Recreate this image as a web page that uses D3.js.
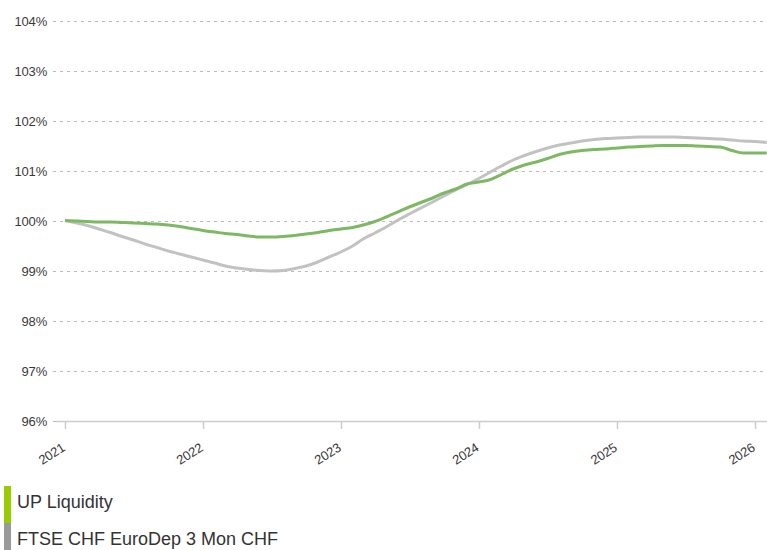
<!DOCTYPE html>
<html>
<head>
<meta charset="utf-8">
<script src="https://cdn.jsdelivr.net/npm/d3@7"></script>
<style>
  body { margin: 0; background: #fff; }
  svg { display: block; font-family: "Liberation Sans", Arial, sans-serif; }
</style>
</head>
<body>
<svg id="chart" width="767" height="550"></svg>
<script>
// monthly values, Jan 2021 .. Feb 2026
const startMonth = new Date(2021, 0, 1);

const upLiquidity = [
  100.01, 100.00, 99.99, 99.98, 99.98, 99.97, 99.96, 99.95, 99.94, 99.92, 99.89, 99.85,
  99.81, 99.78, 99.75, 99.73, 99.70, 99.68, 99.68, 99.69, 99.71, 99.74, 99.77, 99.81,
  99.84, 99.87, 99.92, 99.99, 100.08, 100.18, 100.28, 100.37, 100.46, 100.56, 100.64, 100.74,
  100.78, 100.83, 100.93, 101.04, 101.12, 101.18, 101.25, 101.33, 101.38, 101.41, 101.43, 101.44,
  101.46, 101.48, 101.49, 101.50, 101.51, 101.51, 101.51, 101.50, 101.49, 101.48, 101.41, 101.36,
  101.36, 101.36
];

const ftseEuroDep = [
  100.01, 99.96, 99.91, 99.84, 99.77, 99.69, 99.62, 99.54, 99.47, 99.40, 99.34, 99.28,
  99.22, 99.16, 99.10, 99.06, 99.03, 99.01, 99.00, 99.01, 99.05, 99.10, 99.18, 99.28,
  99.38, 99.50, 99.64, 99.76, 99.88, 100.02, 100.14, 100.26, 100.38, 100.50, 100.62, 100.73,
  100.85, 100.98, 101.10, 101.22, 101.31, 101.39, 101.46, 101.52, 101.56, 101.60, 101.63, 101.65,
  101.66, 101.67, 101.68, 101.68, 101.68, 101.68, 101.67, 101.66, 101.65, 101.64, 101.62, 101.60,
  101.59, 101.57
];

const yTicks = [96, 97, 98, 99, 100, 101, 102, 103, 104];
const xTickYears = [2021, 2022, 2023, 2024, 2025, 2026];

const seriesNames = ["UP Liquidity", "FTSE CHF EuroDep 3 Mon CHF"];
const seriesColors = ["#7db863", "#c2c2c2"];
const legendColors = ["#99cc00", "#999999"];

const svg = d3.select("#chart");

const x = d3.scaleTime()
  .domain([new Date(2021, 0, 1), new Date(2026, 0, 1)])
  .range([65, 755]);

const y = d3.scaleLinear()
  .domain([96, 104])
  .range([421, 21]);

const monthDate = i => new Date(startMonth.getFullYear(), startMonth.getMonth() + i, 1);

// grid lines
svg.append("g")
  .selectAll("line")
  .data(yTicks)
  .enter().append("line")
  .attr("x1", 53)
  .attr("x2", 767)
  .attr("y1", d => y(d) + 0.5)
  .attr("y2", d => y(d) + 0.5)
  .attr("stroke", "#bbbbbb")
  .attr("stroke-dasharray", "3,4");

// y labels
svg.append("g")
  .selectAll("text")
  .data(yTicks)
  .enter().append("text")
  .attr("x", 47)
  .attr("y", d => y(d) + 4.5)
  .attr("text-anchor", "end")
  .attr("font-size", 13)
  .attr("letter-spacing", "-0.2")
  .attr("fill", "#3a3a3a")
  .text(d => d + "%");

// x axis line + ticks
svg.append("line")
  .attr("x1", 56).attr("x2", 767)
  .attr("y1", y(96) + 0.5).attr("y2", y(96) + 0.5)
  .attr("stroke", "#cccccc")
  .attr("stroke-width", 1.5);

const xTicks = xTickYears.map(yr => new Date(yr, 0, 1));

svg.append("g")
  .selectAll("line")
  .data(xTicks)
  .enter().append("line")
  .attr("x1", d => Math.round(x(d)) + 0.5)
  .attr("x2", d => Math.round(x(d)) + 0.5)
  .attr("y1", y(96))
  .attr("y2", y(96) + 8)
  .attr("stroke", "#cccccc")
  .attr("stroke-width", 1.5);

svg.append("g")
  .selectAll("text")
  .data(xTicks)
  .enter().append("text")
  .attr("transform", d => `translate(${x(d) + 1},${y(96) + 29}) rotate(-32)`)
  .attr("text-anchor", "end")
  .attr("font-size", 13)
  .attr("letter-spacing", "-0.2")
  .attr("fill", "#3a3a3a")
  .text(d => d.getFullYear());

// lines
const line = d3.line()
  .x((d, i) => x(monthDate(i)))
  .y(d => y(d))
  .curve(d3.curveMonotoneX);

svg.append("defs").append("clipPath").attr("id", "plot")
  .append("rect").attr("x", 0).attr("y", 0).attr("width", 767).attr("height", 421);

const plot = svg.append("g").attr("clip-path", "url(#plot)");

[ftseEuroDep, upLiquidity].forEach((series, k) => {
  plot.append("path")
    .datum(series)
    .attr("fill", "none")
    .attr("stroke", k === 0 ? seriesColors[1] : seriesColors[0])
    .attr("stroke-width", 3)
    .attr("stroke-linejoin", "round")
    .attr("d", line);
});

// legend
const legend = svg.append("g");
seriesNames.forEach((name, i) => {
  const top = 486 + i * 37;
  legend.append("rect")
    .attr("x", 4).attr("y", top)
    .attr("width", 7).attr("height", 37)
    .attr("fill", legendColors[i]);
  legend.append("text")
    .attr("x", 17).attr("y", top + 22)
    .attr("font-size", 18)
    .attr("fill", "#333")
    .text(name);
});
</script>
</body>
</html>
